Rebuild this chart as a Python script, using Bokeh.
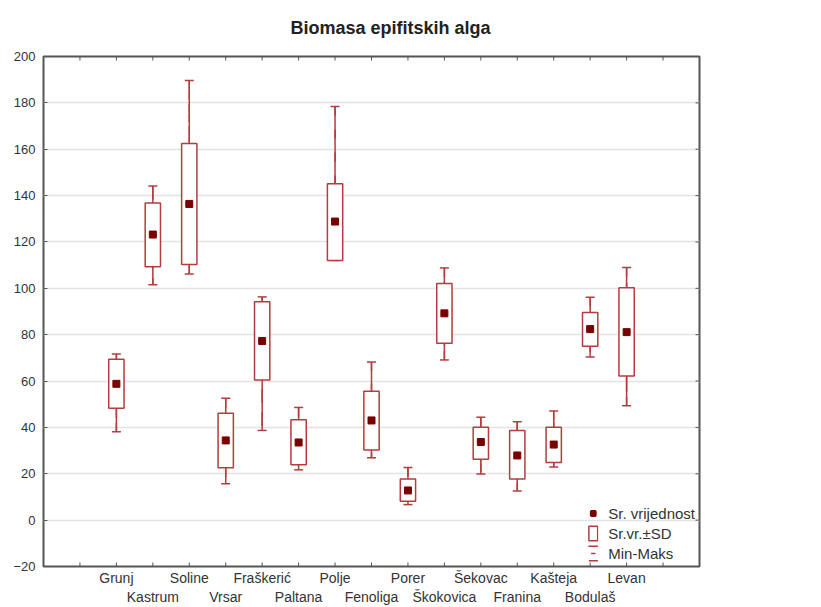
import numpy as np
from bokeh.plotting import figure
from bokeh.models import (Range1d, LinearAxis, FixedTicker, Grid, ColumnDataSource,
                          Legend, LegendItem)
from bokeh.embed import file_html
from bokeh.resources import INLINE

# ---------------- data ----------------
sites = ["Grunj", "Kastrum", "Soline", "Vrsar", "Fraškerić", "Paltana", "Polje",
         "Fenoliga", "Porer", "Škokovica", "Šekovac", "Franina", "Kašteja",
         "Bodulaš", "Levan"]
means = [58.8, 123.2, 136.4, 34.4, 77.3, 33.5, 128.8, 43.0, 12.8, 89.2, 33.7, 27.9, 32.6, 82.4, 81.1]
sd_hi = [69.4, 136.8, 162.5, 46.1, 94.2, 43.3, 145.1, 55.6, 17.7, 102.1, 40.1, 38.7, 40.1, 89.6, 100.2]
sd_lo = [48.3, 109.3, 110.3, 22.6, 60.5, 23.9, 112.0, 30.3, 8.1, 76.3, 26.3, 17.7, 24.9, 75.0, 62.2]
maxs = [71.7, 144.1, 189.6, 52.6, 96.3, 48.6, 178.4, 68.2, 22.7, 108.8, 44.4, 42.4, 47.1, 96.1, 109.0]
mins = [38.1, 101.5, 106.2, 15.7, 38.7, 21.7, 112.0, 26.9, 6.7, 69.1, 19.9, 12.6, 22.9, 70.4, 49.3]
y_ticks = list(range(-20, 201, 20))
legend_labels = ["Sr. vrijednost", "Sr.vr.±SD", "Min-Maks"]
title_text = "Biomasa epifitskih alga"

# ---------------- styles ----------------
FONT = "Liberation Sans"
BOX = "#B43C3C"
MEAN = "#7A0000"
AXIS = "#555555"
TXT = "#333333"

n = len(sites)
pos = list(range(2, 2 + n))
x_ticks = list(range(1, n + 3))
x_lo, x_hi = 0, n + 3
y_lo, y_hi = y_ticks[0], y_ticks[-1]

src = ColumnDataSource(dict(x=pos, mean=means, hi=sd_hi, lo=sd_lo, mx=maxs, mn=mins))

p = figure(width=821, height=607, output_backend="svg", toolbar_location=None,
           x_range=Range1d(x_lo, x_hi), y_range=Range1d(y_lo, y_hi),
           x_axis_location=None, y_axis_location=None,
           min_border_left=43, min_border_right=122, min_border_top=56, min_border_bottom=40)
p.xgrid.visible = False
p.ygrid.visible = False
p.outline_line_color = AXIS
p.outline_line_width = 2
p.background_fill_color = "white"
p.border_fill_color = "white"

p.title.text = title_text
p.title.text_font = FONT
p.title.text_font_size = "18px"
p.title.text_font_style = "bold"
p.title.text_color = "#222222"
p.title.align = "left"
p.title.offset = 247
p.title.vertical_align = "top"
p.title.standoff = 34

grid = Grid(dimension=1, ticker=FixedTicker(ticks=y_ticks), grid_line_color="#E4E4E4", grid_line_width=1.5)
p.add_layout(grid)


def style_axis(ax, size="14px"):
    ax.axis_line_color = None
    ax.major_tick_in = 0
    ax.major_tick_out = 0
    ax.major_tick_line_color = None
    ax.minor_tick_line_color = None
    ax.major_label_text_font = FONT
    ax.major_label_text_font_size = size
    ax.major_label_text_color = TXT


yl = LinearAxis(ticker=FixedTicker(ticks=y_ticks))
style_axis(yl, "13px")
yl.major_tick_in = 4
yl.major_tick_line_color = AXIS
yl.major_label_standoff = 8
p.add_layout(yl, "left")

row1 = {pos[i]: sites[i] for i in range(n) if i % 2 == 0}
xb1 = LinearAxis(ticker=FixedTicker(ticks=list(row1.keys())), major_label_overrides=row1)
style_axis(xb1)
xb1.major_label_standoff = 3
p.add_layout(xb1, "below")

row2 = {pos[i]: sites[i] for i in range(n) if i % 2 == 1}
xb2 = LinearAxis(ticker=FixedTicker(ticks=list(row2.keys())), major_label_overrides=row2)
style_axis(xb2)
xb2.major_label_standoff = 0
p.add_layout(xb2, "below")

# inward tick marks on the frame (half of each dash is clipped by the frame)
p.scatter(x=x_ticks, y=[y_lo] * len(x_ticks), marker="dash", angle=np.pi / 2, size=8,
          line_color=AXIS, line_width=1)
p.scatter(x=x_ticks, y=[y_hi] * len(x_ticks), marker="dash", angle=np.pi / 2, size=8,
          line_color=AXIS, line_width=1)
p.scatter(x=[x_hi] * len(y_ticks), y=y_ticks, marker="dash", size=8,
          line_color=AXIS, line_width=1)

# legend-key helpers: drawn underneath the real marks (hidden), they only shape the legend keys
r_caps = p.quad(left="x", right="x", top="mx", bottom="mn", source=src, fill_color=None,
                line_color=BOX, line_width=1.5, line_dash="9 14")
r_stem = p.scatter("x", "mean", source=src, marker="dash", angle=np.pi / 2, size=1,
                   line_color=BOX, line_width=1.5)
r_mean_key = p.scatter("x", "mean", source=src, marker="square", size=1,
                       fill_color=MEAN, line_color=MEAN, line_width=2.4)

# whiskers (min-max)
p.segment(x0="x", y0="mn", x1="x", y1="mx", source=src, line_color=BOX, line_width=1.5)
p.scatter("x", "mx", marker="dash", size=9, line_color=BOX, line_width=1.5, source=src)
p.scatter("x", "mn", marker="dash", size=9, line_color=BOX, line_width=1.5, source=src)
# mean +- SD boxes
r_box = p.vbar(x="x", width=0.42, top="hi", bottom="lo", fill_color="white", line_color=BOX,
               line_width=1.5, source=src)
# means
r_mean = p.scatter("x", "mean", marker="square", size=7, fill_color=MEAN, line_color=MEAN,
                   source=src)

legend = Legend(items=[LegendItem(label=legend_labels[0], renderers=[r_mean_key]),
                       LegendItem(label=legend_labels[1], renderers=[r_box]),
                       LegendItem(label=legend_labels[2], renderers=[r_caps, r_stem])],
                location="bottom_right", orientation="vertical",
                glyph_width=11, glyph_height=18,
                label_standoff=10, padding=0, margin=4, spacing=2,
                border_line_color=None, background_fill_alpha=0,
                label_text_font=FONT, label_text_font_size="15px",
                label_text_color=TXT, label_height=18)
p.add_layout(legend, "center")

open("out.html", "w").write(file_html(p, INLINE))
